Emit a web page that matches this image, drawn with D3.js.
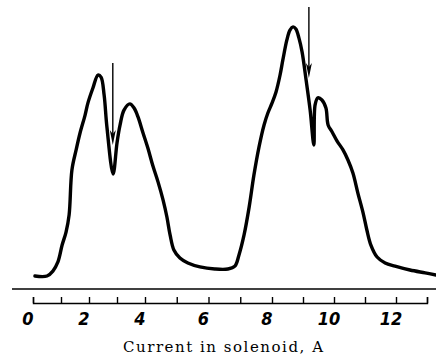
<!DOCTYPE html>
<html>
<head>
<meta charset="utf-8">
<script src="https://cdn.jsdelivr.net/npm/d3@7"></script>
<style>
  body { margin: 0; background: #fff; }
  svg { display: block; }
</style>
</head>
<body>
<div id="chart"></div>
<script>
// current in solenoid (A) and relative intensity (arbitrary units)
var current = [0.07, 0.50, 0.71, 0.89, 1.04, 1.18, 1.29, 1.39, 1.54, 1.68, 1.86, 1.96, 2.14, 2.32, 2.43, 2.54, 2.64, 2.86, 3.00, 3.11, 3.25, 3.46, 3.61, 3.75, 3.93, 4.09, 4.25, 4.41, 4.57, 4.69, 4.79, 4.91, 5.10, 5.35, 5.73, 6.20, 6.61, 6.83, 6.96, 7.12, 7.28, 7.43, 7.59, 7.75, 7.87, 8.00, 8.13, 8.26, 8.35, 8.48, 8.58, 8.68, 8.77, 8.87, 8.97, 9.10, 9.23, 9.35, 9.39, 9.48, 9.61, 9.74, 9.81, 9.94, 10.10, 10.29, 10.45, 10.61, 10.77, 10.94, 11.06, 11.19, 11.39, 11.65, 11.97, 12.45, 12.94, 13.29];
var intensity = [5.0, 5.0, 6.9, 10.4, 16.9, 21.9, 28.5, 45.8, 53.5, 60.0, 66.9, 71.5, 77.3, 82.3, 81.5, 74.6, 62.3, 44.2, 56.2, 63.1, 68.8, 71.2, 69.6, 66.2, 60.0, 54.2, 47.3, 41.2, 34.2, 27.7, 20.8, 15.0, 11.9, 10.0, 8.5, 7.7, 7.7, 8.8, 13.1, 20.8, 31.5, 43.8, 54.6, 63.1, 67.7, 71.5, 75.8, 82.3, 88.1, 95.8, 99.6, 100.8, 100.0, 96.5, 91.2, 80.4, 68.8, 55.4, 70.8, 73.5, 72.7, 69.6, 63.1, 60.4, 56.9, 53.5, 49.6, 44.6, 36.9, 29.2, 22.7, 16.9, 12.3, 10.0, 8.8, 7.3, 6.2, 5.4];

// arrows marking the dips
var arrowX = [2.85, 9.19];
var arrowTop = [86.9, 108.5];
var arrowTip = [55.4, 81.2];

var tickValues = d3.range(0, 14);
var labelValues = [0, 2, 4, 6, 8, 10, 12];
var xTitle = "Current in solenoid, A";

var width = 436, height = 356;

var svg = d3.select("#chart").append("svg")
    .attr("width", width)
    .attr("height", height);

// the hand-ruled scale is slightly uneven, so the x scale is piecewise
var x = d3.scaleLinear().domain([0, 4, 8, 13]).range([33, 145, 272, 427]),
    y = d3.scaleLinear().domain([0, 100]).range([289, 29]);

var data = current.map(function(c, i) { return {x: c, y: intensity[i]}; });

var line = d3.line()
    .x(function(d) { return x(d.x); })
    .y(function(d) { return y(d.y); })
    .curve(d3.curveCatmullRom.alpha(0.5));

svg.append("path")
    .datum(data)
    .attr("fill", "none")
    .attr("stroke", "#000")
    .attr("stroke-width", 3.4)
    .attr("stroke-linejoin", "round")
    .attr("stroke-linecap", "round")
    .attr("d", line);

// arrows
var arrows = svg.selectAll(".arrow")
    .data(arrowX.map(function(a, i) { return {x: a, top: arrowTop[i], tip: arrowTip[i]}; }))
    .enter().append("g")
    .attr("class", "arrow");

arrows.append("line")
    .attr("x1", function(d) { return x(d.x); })
    .attr("x2", function(d) { return x(d.x); })
    .attr("y1", function(d) { return y(d.top); })
    .attr("y2", function(d) { return y(d.tip) - 6; })
    .attr("stroke", "#000")
    .attr("stroke-width", 1.4);

arrows.append("path")
    .attr("fill", "#000")
    .attr("d", function(d) {
      var cx = x(d.x), ty = y(d.tip);
      return "M" + cx + "," + ty + "L" + (cx - 3) + "," + (ty - 15) + "L" + cx + "," + (ty - 11) + "L" + (cx + 3) + "," + (ty - 15) + "Z";
    });

// baseline of the trace
svg.append("line")
    .attr("x1", 12).attr("x2", width)
    .attr("y1", y(0)).attr("y2", y(0))
    .attr("stroke", "#000")
    .attr("stroke-width", 1.5);

// scale ruler
var axis = svg.append("g")
    .attr("transform", "translate(0,303)")
    .call(d3.axisTop(x).tickValues(tickValues).tickSize(6).tickSizeOuter(6).tickFormat(""));

axis.selectAll("path, line")
    .attr("stroke", "#000")
    .attr("stroke-width", 1.4);

svg.selectAll(".xlabel")
    .data(labelValues)
    .enter().append("text")
    .attr("class", "xlabel")
    .attr("x", function(d) { return x(d) - 5; })
    .attr("y", 325)
    .attr("text-anchor", "middle")
    .attr("font-family", "DejaVu Sans Condensed, DejaVu Sans, sans-serif")
    .attr("font-style", "italic")
    .attr("font-weight", "bold")
    .attr("font-size", 18)
    .text(function(d) { return d; });

svg.append("text")
    .attr("x", 223)
    .attr("y", 352)
    .attr("text-anchor", "middle")
    .attr("font-family", "DejaVu Serif, serif")
    .attr("font-size", 15)
    .attr("textLength", 200)
    .attr("lengthAdjust", "spacing")
    .text(xTitle);
</script>
</body>
</html>
